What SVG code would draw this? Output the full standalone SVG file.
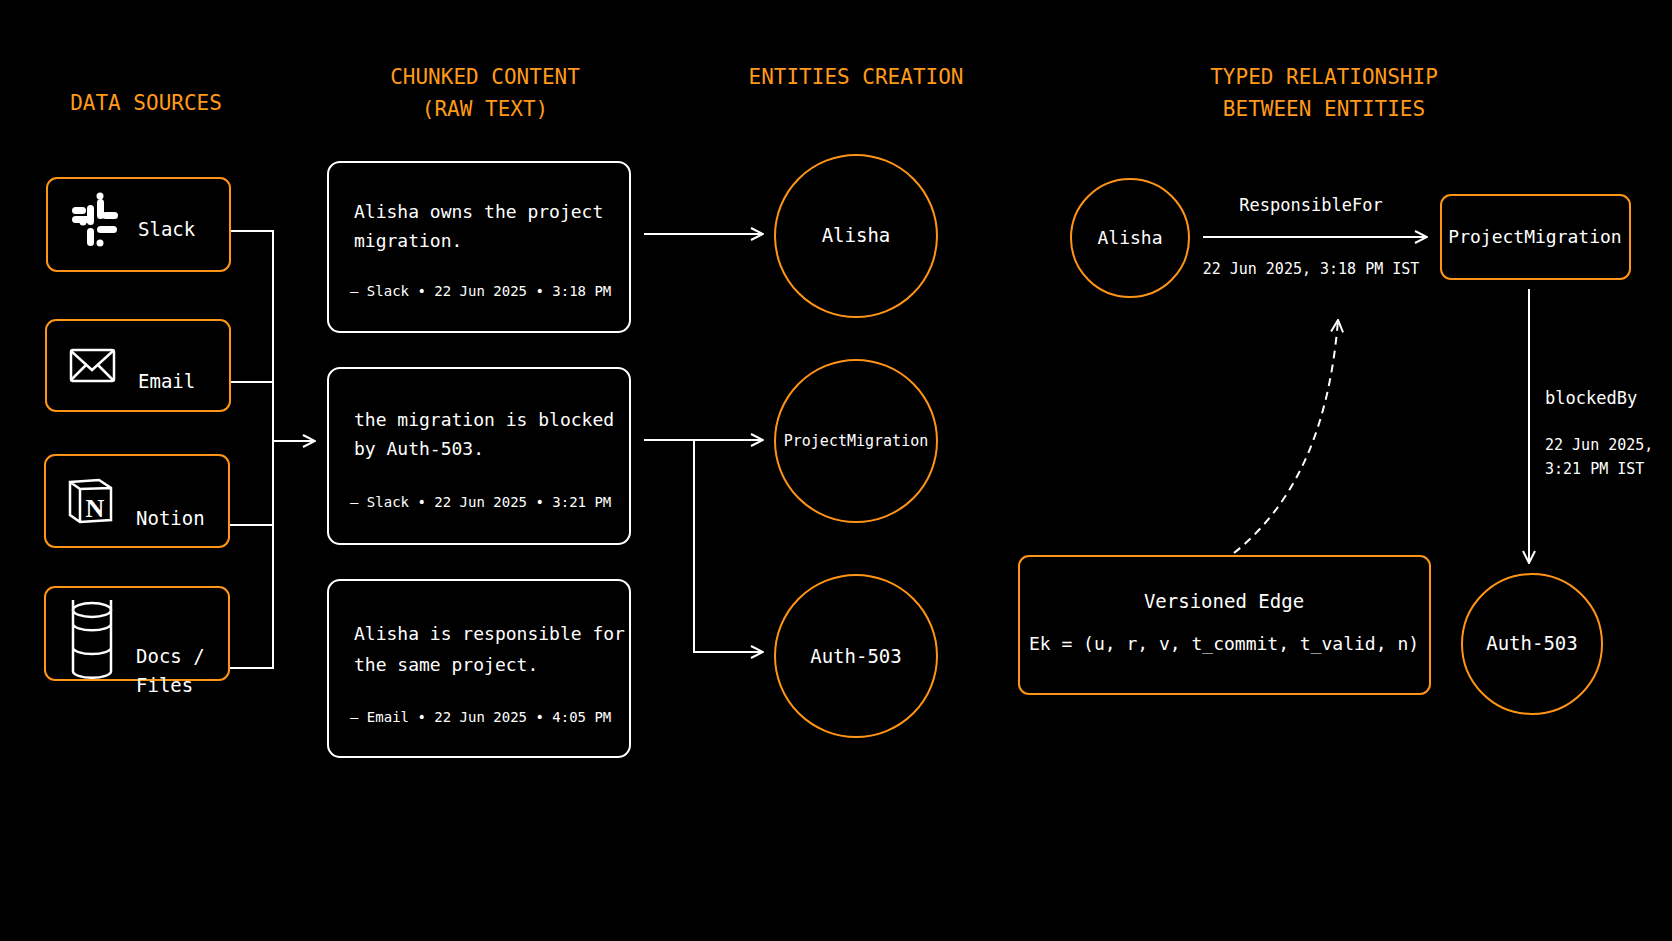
<svg xmlns="http://www.w3.org/2000/svg" width="1672" height="941" viewBox="0 0 1672 941">
<defs>
<style>
.t{font-family:"DejaVu Sans Mono","Liberation Mono",monospace;fill:#fff}
.h{font-family:"DejaVu Sans Mono","Liberation Mono",monospace;fill:#ff9a1a;font-size:21px;text-anchor:middle}
.ob{fill:#000;stroke:#ff9416;stroke-width:2}
.wb{fill:#000;stroke:#fff;stroke-width:2}
.ln{fill:none;stroke:#fff;stroke-width:2}
.ic{fill:none;stroke:#fff;stroke-width:2.5}
</style>
<marker id="a" viewBox="0 0 14 14" refX="13" refY="7" markerWidth="14" markerHeight="14" markerUnits="userSpaceOnUse" orient="auto"><path d="M1 1 L13 7 L1 13" fill="none" stroke="#fff" stroke-width="2"/></marker>
</defs>
<rect width="1672" height="941" fill="#000"/>
<g id="titles">
<text class="h" x="146" y="110">DATA SOURCES</text>
<text class="h" x="485" y="84">CHUNKED CONTENT</text>
<text class="h" x="485" y="116">(RAW TEXT)</text>
<text class="h" x="856" y="84">ENTITIES CREATION</text>
<text class="h" x="1324" y="84">TYPED RELATIONSHIP</text>
<text class="h" x="1324" y="116">BETWEEN ENTITIES</text>
</g>
<g id="connectors">
<path class="ln" d="M230 231 H273 V668 H230 M230 382 H273 M229 525 H273"/>
<path class="ln" d="M273 441 H315" marker-end="url(#a)"/>
<path class="ln" d="M644 234 H763" marker-end="url(#a)"/>
<path class="ln" d="M644 440 H763" marker-end="url(#a)"/>
<path class="ln" d="M694 440 V652 H763" marker-end="url(#a)"/>
<path class="ln" d="M1203 237 H1427" marker-end="url(#a)"/>
<path class="ln" d="M1529 289 V563" marker-end="url(#a)"/>
<path class="ln" stroke-dasharray="8 6" d="M1234 553 C1300 500 1330 420 1338 320" marker-end="url(#a)"/>
<text class="t" x="1311" y="211" font-size="17" text-anchor="middle">ResponsibleFor</text>
<text class="t" x="1311" y="274" font-size="15" text-anchor="middle">22 Jun 2025, 3:18 PM IST</text>
<text class="t" x="1545" y="404" font-size="17">blockedBy</text>
<text class="t" x="1545" y="450" font-size="15">22 Jun 2025,</text>
<text class="t" x="1545" y="474" font-size="15">3:21 PM IST</text>
</g>
<g id="slack">
<rect class="ob" x="47" y="178" width="183" height="93" rx="10"/>
<g fill="#fff">
<rect x="87" y="205" width="7" height="20" rx="3.5"/><circle cx="83" cy="222" r="3.5"/>
<rect x="97" y="199" width="7" height="20" rx="3.5"/><circle cx="100" cy="196" r="3.5"/>
<rect x="72" y="216" width="20" height="7" rx="3.5"/>
<rect x="97" y="226" width="20" height="7" rx="3.5"/>
<rect x="72" y="226" width="20" height="7" rx="3.5" opacity="0"/>
<rect x="102" y="212" width="16" height="7" rx="3.5"/>
<rect x="72" y="207" width="14" height="7" rx="3.5"/>
<rect x="87" y="228" width="7" height="18" rx="3.5"/>
<rect x="97" y="232" width="7" height="14" rx="3.5" opacity="0"/>
<circle cx="100" cy="243" r="3.5"/>
<circle cx="114" cy="229" r="3.5" opacity="0"/>
</g>
<text class="t" x="138" y="236" font-size="19">Slack</text>
</g>
<g id="email">
<rect class="ob" x="46" y="320" width="184" height="91" rx="10"/>
<rect class="ic" x="71" y="350" width="43" height="31" rx="2"/>
<path class="ic" d="M71 351 L92 370 L113 351 M71 380 L86 365 M113 380 L98 365"/>
<text class="t" x="138" y="388" font-size="19">Email</text>
</g>
<g id="notion">
<rect class="ob" x="45" y="455" width="184" height="92" rx="10"/>
<path class="ic" d="M70 482 L99 480 L111 488 L111 520 L80 522 L70 515 Z M70 482 L80 489 L111 488 M80 489 V522" fill="#000"/>
<text x="95" y="517" font-family="Liberation Serif,serif" font-weight="bold" font-size="26" fill="#fff" text-anchor="middle">N</text>
<text class="t" x="136" y="534" font-size="19" dy="-9">Notion</text>
</g>
<g id="docs">
<rect class="ob" x="45" y="587" width="184" height="93" rx="10"/>
<ellipse class="ic" cx="92" cy="651" rx="19" ry="7" transform="translate(0 -41)"/>
<path class="ic" d="M73 610 V686 M111 610 V686" transform="translate(0 -0)" style="display:none"/>
<path class="ic" d="M73 610 V685 A19 7 0 0 0 111 685 V610 M73 635 A19 7 0 0 0 111 635 M73 660 A19 7 0 0 0 111 660" transform="translate(0 -10) scale(1 0.95) translate(0 32)"/>
<text class="t" x="136" y="663" font-size="19">Docs /</text>
<text class="t" x="136" y="692" font-size="19">Files</text>
</g>
<g id="chunk1">
<rect class="wb" x="328" y="162" width="302" height="170" rx="12"/>
<text class="t" x="354" y="218" font-size="18">Alisha owns the project</text>
<text class="t" x="354" y="247" font-size="18">migration.</text>
<text class="t" x="350" y="296" font-size="14">— Slack • 22 Jun 2025 • 3:18 PM</text>
</g>
<g id="chunk2">
<rect class="wb" x="328" y="368" width="302" height="176" rx="12"/>
<text class="t" x="354" y="426" font-size="18">the migration is blocked</text>
<text class="t" x="354" y="455" font-size="18">by Auth-503.</text>
<text class="t" x="350" y="507" font-size="14">— Slack • 22 Jun 2025 • 3:21 PM</text>
</g>
<g id="chunk3">
<rect class="wb" x="328" y="580" width="302" height="177" rx="12"/>
<text class="t" x="354" y="640" font-size="18">Alisha is responsible for</text>
<text class="t" x="354" y="671" font-size="18">the same project.</text>
<text class="t" x="350" y="722" font-size="14">— Email • 22 Jun 2025 • 4:05 PM</text>
</g>
<g id="e-alisha"><circle class="ob" cx="856" cy="236" r="81"/><text class="t" x="856" y="242" font-size="19" text-anchor="middle">Alisha</text></g>
<g id="e-pm"><circle class="ob" cx="856" cy="441" r="81"/><text class="t" x="856" y="446" font-size="15" text-anchor="middle">ProjectMigration</text></g>
<g id="e-auth"><circle class="ob" cx="856" cy="656" r="81"/><text class="t" x="856" y="663" font-size="19" text-anchor="middle">Auth-503</text></g>
<g id="r-alisha"><circle class="ob" cx="1130" cy="238" r="59"/><text class="t" x="1130" y="244" font-size="18" text-anchor="middle">Alisha</text></g>
<g id="r-pm"><rect class="ob" x="1441" y="195" width="189" height="84" rx="10"/><text class="t" x="1535" y="243" font-size="18" text-anchor="middle">ProjectMigration</text></g>
<g id="r-auth"><circle class="ob" cx="1532" cy="644" r="70"/><text class="t" x="1532" y="650" font-size="19" text-anchor="middle">Auth-503</text></g>
<g id="versioned">
<rect class="ob" x="1019" y="556" width="411" height="138" rx="10"/>
<text class="t" x="1224" y="608" font-size="19" text-anchor="middle">Versioned Edge</text>
<text class="t" x="1224" y="650" font-size="18" text-anchor="middle">Ek = (u, r, v, t_commit, t_valid, n)</text>
</g>
</svg>
